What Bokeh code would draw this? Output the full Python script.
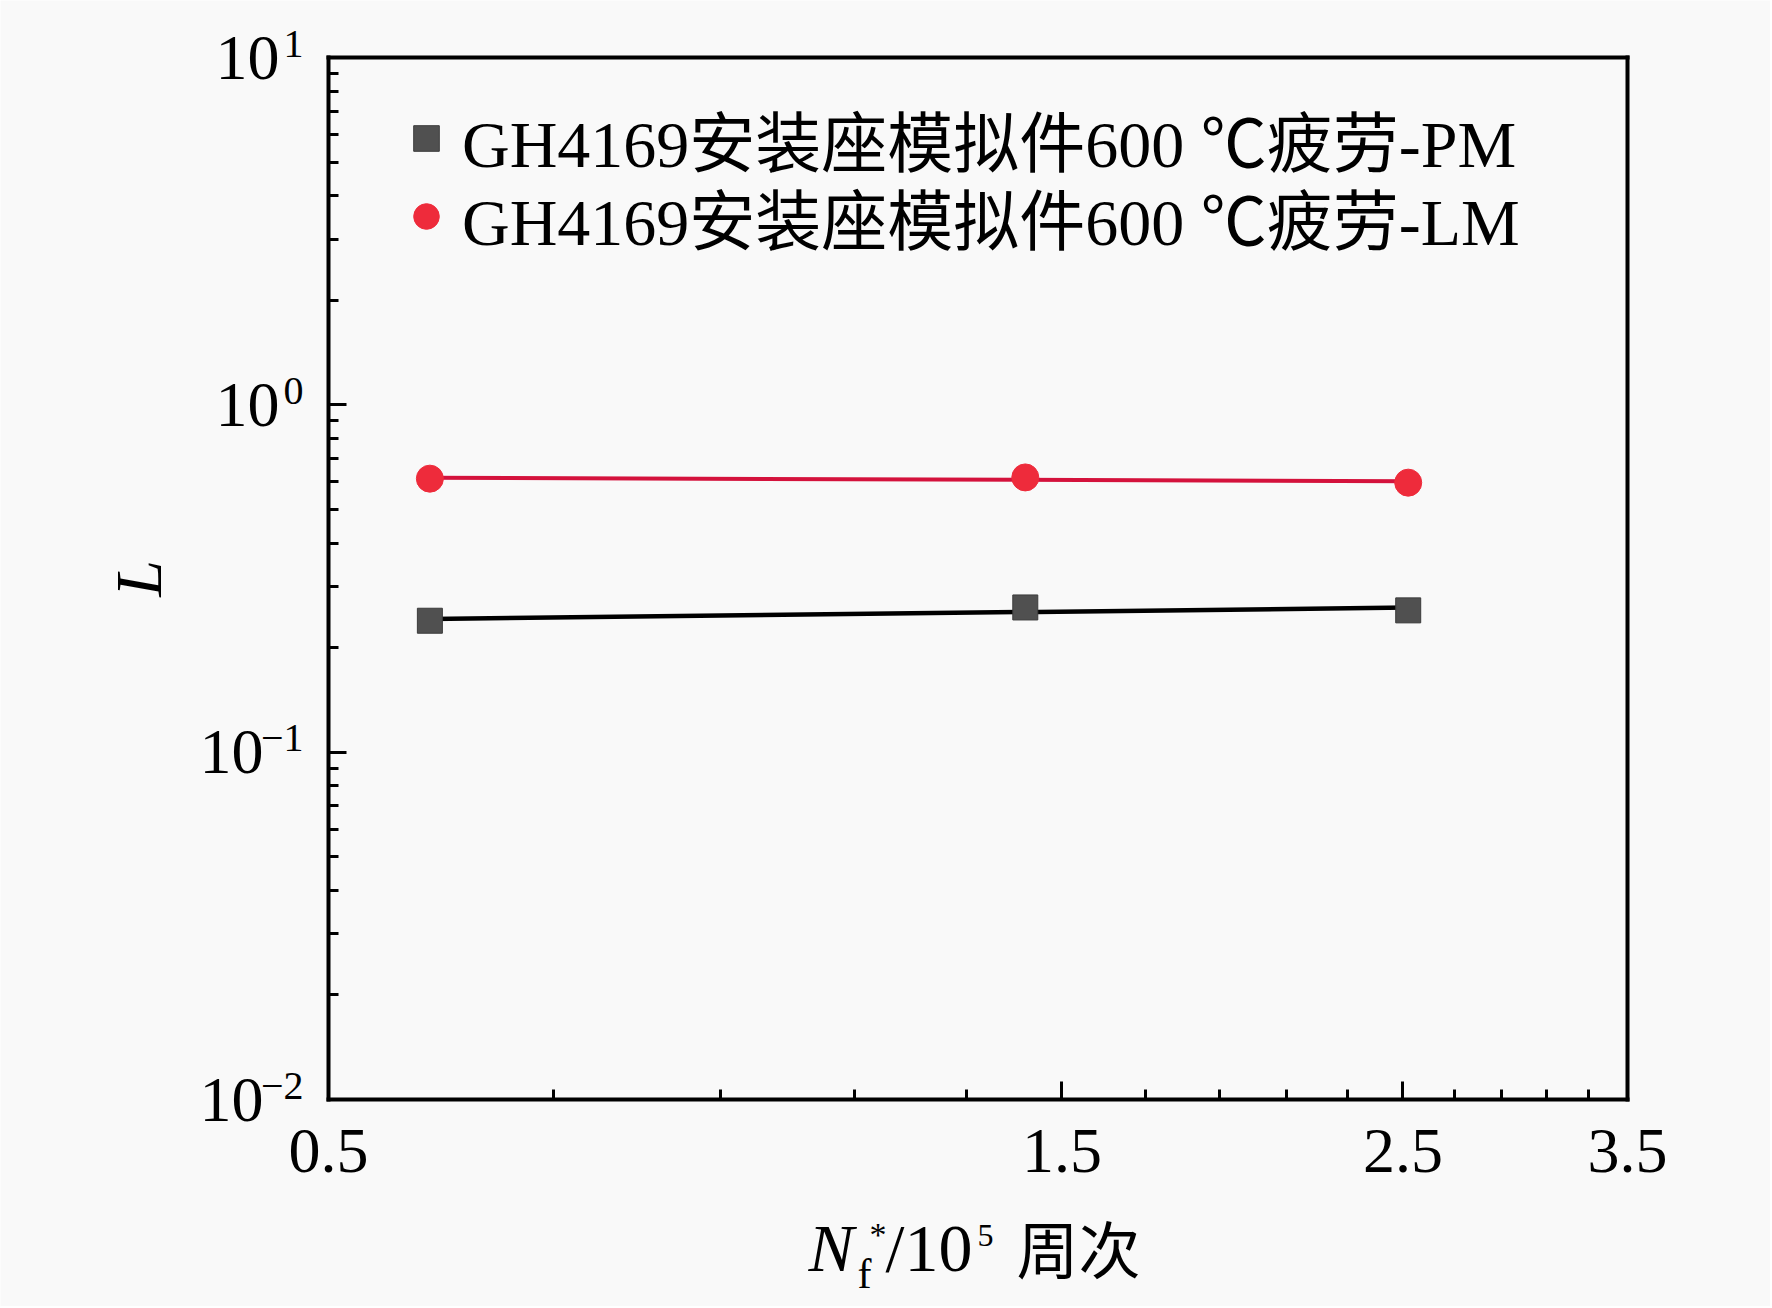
import numpy as np
from bokeh.plotting import figure
from bokeh.models import (FixedTicker, PrintfTickFormatter, CustomJSTickFormatter,
                          Label, Legend, LegendItem, LogAxis, Range1d)
from bokeh.embed import file_html
from bokeh.resources import INLINE

# ---------------- data ----------------
x_pm = [0.582, 1.42, 2.52]
y_pm = [0.239, 0.261, 0.256]
x_lm = [0.582, 1.42, 2.52]
y_lm = [0.613, 0.618, 0.597]
legend_pm = "GH4169安装座模拟件600 ℃疲劳-PM"
legend_lm = "GH4169安装座模拟件600 ℃疲劳-LM"
x_ticks = [0.5, 1.5, 2.5, 3.5]
x_minor = [0.7, 0.9, 1.1, 1.3, 1.7, 1.9, 2.1, 2.3, 2.7, 2.9, 3.1, 3.3]
y_exponents = [-2, -1, 0, 1]
y_label = "L"
x_label_parts = ["N", "f", "*", "/10", "5", "周次"]

# ---------------- layout constants (canvas px == page px) ----------------
W, H = 1770, 1306                          # canvas
FL, FT, FW, FH = 328, 57, 1299, 1042       # data box inside canvas (px)
X0, X1 = 0.5, 3.5
Y0, Y1 = 0.01, 10.0
PPX = FW / (np.log10(X1) - np.log10(X0))   # px per decade (x)
PPD = FH / (np.log10(Y1) - np.log10(Y0))   # px per decade (y)
BOX_BOTTOM = FT + FH

x_lo = 10 ** (np.log10(X0) - FL / PPX)
x_hi = 10 ** (np.log10(X1) + (W - FL - FW) / PPX)
y_lo = 10 ** (np.log10(Y0) - (H - FT - FH) / PPD)
y_hi = 10 ** (np.log10(Y1) + FT / PPD)

SERIF = "Liberation Serif"
MIXED = "'Liberation Serif', 'Noto Sans CJK SC'"
BG = "#f9f9f9"


def y_at(py):
    """data y for a canvas pixel row"""
    return 10 ** (np.log10(Y0) + (BOX_BOTTOM - py) / PPD)


def x_off(px):
    return px - FL


def loglog_fit(xs, ys):
    c = np.polyfit(np.log10(xs), np.log10(ys), 1)
    xf = np.array([min(xs), max(xs)])
    return xf, 10 ** np.polyval(c, np.log10(xf))


p = figure(width=W, height=H, min_border=0,
           x_axis_type="log", y_axis_type="log",
           x_axis_location=None, y_axis_location=None,
           x_range=Range1d(x_lo, x_hi), y_range=Range1d(y_lo, y_hi),
           output_backend="svg", toolbar_location=None,
           background_fill_color=BG, border_fill_color=BG)
p.grid.visible = False
p.outline_line_color = None


def style_axis(ax, ticks=True):
    ax.axis_line_width = 4
    ax.axis_line_color = "black"
    ax.axis_line_cap = "square"
    ax.major_tick_in = 18
    ax.major_tick_out = 0
    ax.minor_tick_in = 10
    ax.minor_tick_out = 0
    ax.major_tick_line_width = 3
    ax.minor_tick_line_width = 3
    ax.major_tick_line_color = "black" if ticks else None
    ax.minor_tick_line_color = "black" if ticks else None


# bottom axis (x)
xa = LogAxis(fixed_location=Y0, bounds=(X0, X1),
             ticker=FixedTicker(ticks=x_ticks, minor_ticks=x_minor),
             formatter=PrintfTickFormatter(format="%.1f"),
             major_label_text_font=SERIF, major_label_text_font_size="64px",
             major_label_text_color="black", major_label_standoff=30)
style_axis(xa)
p.add_layout(xa, "below")

# left axis (y)
y_minor = [k * 10.0 ** e for e in y_exponents[:-1] for k in range(2, 10)]
ya = LogAxis(fixed_location=X0, bounds=(Y0, Y1),
             ticker=FixedTicker(ticks=[10.0 ** e for e in y_exponents], minor_ticks=y_minor),
             formatter=CustomJSTickFormatter(code="return ''"))
style_axis(ya)
p.add_layout(ya, "left")

# top and right frame lines
ta = LogAxis(fixed_location=Y1, bounds=(X0, X1), ticker=FixedTicker(ticks=[]),
             formatter=CustomJSTickFormatter(code="return ''"))
style_axis(ta, ticks=False)
p.add_layout(ta, "above")
ra = LogAxis(fixed_location=X1, bounds=(Y0, Y1), ticker=FixedTicker(ticks=[]),
             formatter=CustomJSTickFormatter(code="return ''"))
style_axis(ra, ticks=False)
p.add_layout(ra, "right")

# fitted lines
xf, yf = loglog_fit(x_pm, y_pm)
p.line(xf, yf, line_color="black", line_width=4.5)
xf, yf = loglog_fit(x_lm, y_lm)
p.line(xf, yf, line_color="#d4123c", line_width=4)

sc_pm = p.scatter(x_pm, y_pm, marker="square", size=25,
                  fill_color="#505050", line_color="#3c3c3c", line_width=1)
sc_lm = p.scatter(x_lm, y_lm, marker="circle", size=27,
                  fill_color="#ee2b3b", line_color="#ee2b3b", line_width=1)

# one legend box per row (rows centred at canvas y 138 and 215.5)
ITEM_H = 120
for label, rend, row_center in ((legend_pm, sc_pm, 138), (legend_lm, sc_lm, 215.5)):
    lg = Legend(items=[LegendItem(label=label, renderers=[rend])],
                location=(394, H - (row_center + ITEM_H / 2)), padding=0, margin=0,
                glyph_width=64, glyph_height=ITEM_H, label_height=ITEM_H,
                label_standoff=4, spacing=0,
                label_text_font=MIXED, label_text_font_size="66px",
                label_text_color="black",
                background_fill_alpha=0, border_line_alpha=0)
    p.add_layout(lg)

# y tick labels 10^e with superscripts (vertical centres relative to tick)
for e in y_exponents:
    sup = ("−%d" % -e) if e < 0 else ("%d" % e)
    ten_right = 263 if e < 0 else 279
    p.add_layout(Label(x=X0, y=10.0 ** e, x_offset=x_off(ten_right),
                       text="10", text_align="right", text_baseline="middle",
                       text_font=SERIF, text_font_size="64px", text_color="black"))
    p.add_layout(Label(x=X0, y=10.0 ** (e + 14 / PPD), x_offset=x_off(303),
                       text=sup, text_align="right", text_baseline="middle",
                       text_font=SERIF, text_font_size="40px", text_color="black"))

# y axis title
p.add_layout(Label(x=X0, y=10 ** ((np.log10(Y0) + np.log10(Y1)) / 2), x_offset=x_off(138),
                   text=y_label, angle=np.pi / 2, text_align="center", text_baseline="middle",
                   text_font=SERIF, text_font_style="italic", text_font_size="66px",
                   text_color="black"))

# x axis title  N_f^* / 10^5 周次   (vertical centres in canvas px)
pieces = [  # (text, left px, centre px, size, style, font)
    (x_label_parts[0], 808, 1247, "68px", "italic", SERIF),
    (x_label_parts[1], 857, 1273, "42px", "normal", SERIF),
    (x_label_parts[2], 869, 1234, "34px", "normal", SERIF),
    (x_label_parts[3], 885, 1247, "68px", "normal", SERIF),
    (x_label_parts[4], 977, 1235, "32px", "normal", SERIF),
    (x_label_parts[5], 1016, 1246, "62px", "normal", "Noto Sans CJK SC"),
]
for txt, lx, cy, sz, st, fnt in pieces:
    p.add_layout(Label(x=X0, y=y_at(cy), x_offset=x_off(lx), text=txt,
                       text_align="left", text_baseline="middle",
                       text_font=fnt, text_font_style=st, text_font_size=sz,
                       text_color="black"))

open("out.html", "w").write(file_html(p, INLINE))
